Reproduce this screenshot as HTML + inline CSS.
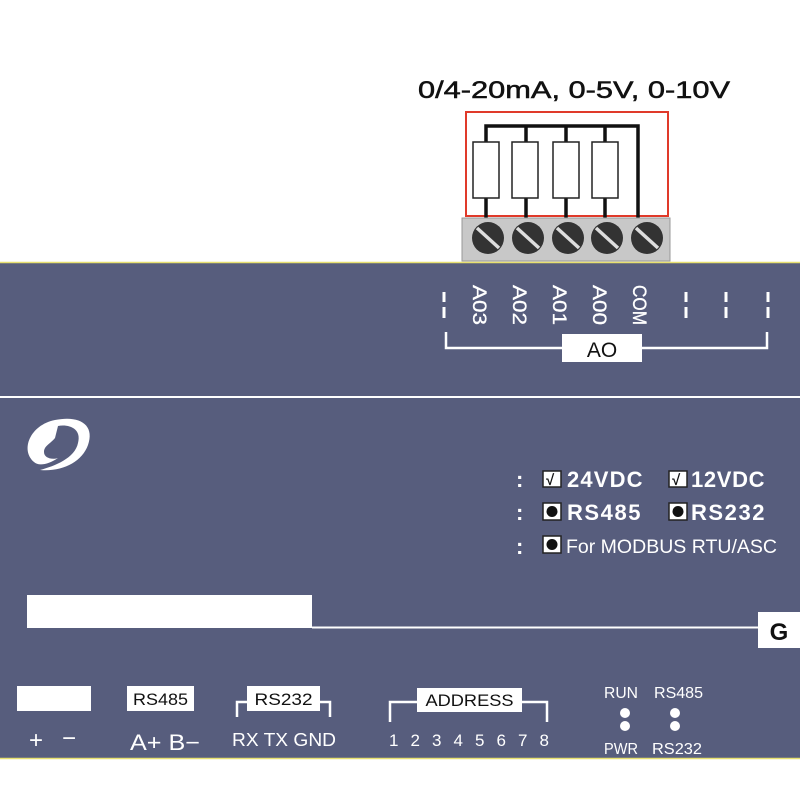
<!DOCTYPE html>
<html><head><meta charset="utf-8"><style>
html,body{margin:0;padding:0;background:#fff;}
svg{display:block;}
</style></head><body>
<svg width="800" height="800" viewBox="0 0 800 800" xmlns="http://www.w3.org/2000/svg" font-family="Liberation Sans, sans-serif">
<rect x="0" y="0" width="800" height="800" fill="#fff"/>
<!-- title -->
<text x="418" y="98" font-size="24" fill="#111" stroke="#111" stroke-width="0.5" textLength="312" lengthAdjust="spacingAndGlyphs">0/4-20mA, 0-5V, 0-10V</text>
<!-- red box -->
<rect x="466" y="112" width="202" height="104" fill="#fff" stroke="#e03a2a" stroke-width="2"/>
<!-- wires -->
<g stroke="#111" stroke-width="3.5" fill="none">
<polyline points="486,142 486,126 638,126 638,218"/>
<line x1="526" y1="126" x2="526" y2="142"/>
<line x1="566" y1="126" x2="566" y2="142"/>
<line x1="605" y1="126" x2="605" y2="142"/>
<line x1="486" y1="198" x2="486" y2="218"/>
<line x1="526" y1="198" x2="526" y2="218"/>
<line x1="566" y1="198" x2="566" y2="218"/>
<line x1="605" y1="198" x2="605" y2="218"/>
</g>
<g fill="#fff" stroke="#222" stroke-width="1.5">
<rect x="473" y="142" width="26" height="56"/>
<rect x="512" y="142" width="26" height="56"/>
<rect x="553" y="142" width="26" height="56"/>
<rect x="592" y="142" width="26" height="56"/>
</g>
<!-- terminal block -->
<rect x="462" y="218" width="208" height="43" fill="#c8c8c8" stroke="#999" stroke-width="1"/>
<g>
<circle cx="488" cy="238" r="16" fill="#333"/>
<circle cx="528" cy="238" r="16" fill="#333"/>
<circle cx="568" cy="238" r="16" fill="#333"/>
<circle cx="607" cy="238" r="16" fill="#333"/>
<circle cx="647" cy="238" r="16" fill="#333"/>
</g>
<g stroke="#ddd" stroke-width="3.5">
<line x1="477" y1="228" x2="499" y2="248"/>
<line x1="517" y1="228" x2="539" y2="248"/>
<line x1="557" y1="228" x2="579" y2="248"/>
<line x1="596" y1="228" x2="618" y2="248"/>
<line x1="636" y1="228" x2="658" y2="248"/>
</g>
<!-- panel -->
<rect x="0" y="262" width="800" height="497" fill="#575d7d"/>
<line x1="0" y1="262.5" x2="800" y2="262.5" stroke="#e8e070" stroke-width="1.5"/>
<line x1="0" y1="758.5" x2="800" y2="758.5" stroke="#e8e070" stroke-width="1.5"/>
<line x1="0" y1="397" x2="800" y2="397" stroke="#fff" stroke-width="2"/>
<!-- vertical labels -->
<g fill="#fff" font-size="19" stroke="#fff" stroke-width="0.3">
<text transform="translate(473,285) rotate(90)" textLength="40" lengthAdjust="spacingAndGlyphs">A03</text>
<text transform="translate(513,285) rotate(90)" textLength="40" lengthAdjust="spacingAndGlyphs">A02</text>
<text transform="translate(553,285) rotate(90)" textLength="40" lengthAdjust="spacingAndGlyphs">A01</text>
<text transform="translate(593,285) rotate(90)" textLength="40" lengthAdjust="spacingAndGlyphs">A00</text>
<text transform="translate(633,285) rotate(90)" textLength="40" lengthAdjust="spacingAndGlyphs">COM</text>
</g>
<g stroke="#fff" stroke-width="3">
<line x1="444" y1="292" x2="444" y2="302"/><line x1="444" y1="307" x2="444" y2="318"/>
<line x1="686" y1="292" x2="686" y2="302"/><line x1="686" y1="307" x2="686" y2="318"/>
<line x1="726" y1="292" x2="726" y2="302"/><line x1="726" y1="307" x2="726" y2="318"/>
<line x1="768" y1="292" x2="768" y2="302"/><line x1="768" y1="307" x2="768" y2="318"/>
</g>
<polyline points="446,332 446,348 767,348 767,332" fill="none" stroke="#fff" stroke-width="2.5"/>
<rect x="562" y="334" width="80" height="28" fill="#fff"/>
<text x="602" y="357" font-size="21" text-anchor="middle" fill="#111">AO</text>
<!-- logo -->
<path d="M34,462 C20,450 30,425 55,420 C80,415 95,425 88,445 C82,462 62,472 40,470 C55,466 75,458 78,443 C82,428 68,424 58,426 L55,438 C50,444 44,446 44,452 C44,458 52,460 58,458 C48,465 38,466 34,462 Z" fill="#fff"/>
<!-- options -->
<g fill="#fff" font-size="22" font-weight="bold">
<text x="516" y="487">:</text>
<text x="516" y="520">:</text>
<text x="516" y="554">:</text>
</g>
<g>
<rect x="543" y="471" width="18" height="16" fill="#fff" stroke="#222" stroke-width="1.5"/>
<text x="546" y="485" font-size="15" font-weight="bold" fill="#111">√</text>
<rect x="669" y="471" width="18" height="16" fill="#fff" stroke="#222" stroke-width="1.5"/>
<text x="672" y="485" font-size="15" font-weight="bold" fill="#111">√</text>
<rect x="543" y="503" width="18" height="17" fill="#fff" stroke="#222" stroke-width="1.5"/>
<circle cx="552" cy="511.5" r="5.5" fill="#111"/>
<rect x="669" y="503" width="18" height="17" fill="#fff" stroke="#222" stroke-width="1.5"/>
<circle cx="678" cy="511.5" r="5.5" fill="#111"/>
<rect x="543" y="536" width="18" height="17" fill="#fff" stroke="#222" stroke-width="1.5"/>
<circle cx="552" cy="544.5" r="5.5" fill="#111"/>
</g>
<g fill="#fff" font-size="22" font-weight="bold" letter-spacing="2.5">
<text x="567" y="487" textLength="78">24VDC</text>
<text x="691" y="487" textLength="76">12VDC</text>
<text x="567" y="520" textLength="76">RS485</text>
<text x="691" y="520" textLength="76">RS232</text>
</g>
<text x="566" y="553" font-size="19" fill="#fff" textLength="211" lengthAdjust="spacingAndGlyphs">For MODBUS  RTU/ASC</text>
<!-- white bar and G -->
<rect x="27" y="595" width="285" height="33" fill="#fff"/>
<line x1="312" y1="627.5" x2="760" y2="627.5" stroke="#fff" stroke-width="2"/>
<rect x="758" y="612" width="42" height="36" fill="#fff"/>
<text x="779" y="640" font-size="24" font-weight="bold" text-anchor="middle" fill="#111">G</text>
<!-- bottom -->
<rect x="17" y="686" width="74" height="25" fill="#fff"/>
<rect x="127" y="686" width="67" height="25" fill="#fff"/>
<text x="160.5" y="705" font-size="17" text-anchor="middle" fill="#111" textLength="55" lengthAdjust="spacingAndGlyphs">RS485</text>
<polyline points="237,717 237,702 330,702 330,717" fill="none" stroke="#fff" stroke-width="2.5"/>
<rect x="247" y="686" width="73" height="25" fill="#fff"/>
<text x="283.5" y="705" font-size="17" text-anchor="middle" fill="#111" textLength="58" lengthAdjust="spacingAndGlyphs">RS232</text>
<polyline points="390,722 390,702 547,702 547,722" fill="none" stroke="#fff" stroke-width="2.5"/>
<rect x="417" y="688" width="105" height="24" fill="#fff"/>
<text x="469.5" y="706" font-size="17" text-anchor="middle" fill="#111" textLength="88" lengthAdjust="spacingAndGlyphs">ADDRESS</text>
<g fill="#fff">
<text x="29" y="748" font-size="24">+</text>
<text x="62" y="746" font-size="24">−</text>
<text x="130" y="750" font-size="22" textLength="70" lengthAdjust="spacingAndGlyphs">A+ B−</text>
<text x="232" y="746" font-size="18" textLength="104" lengthAdjust="spacingAndGlyphs">RX TX GND</text>
<text x="389" y="746" font-size="17" textLength="160" lengthAdjust="spacing">1 2 3 4 5 6 7 8</text>
<text x="604" y="698" font-size="16" textLength="34" lengthAdjust="spacingAndGlyphs">RUN</text>
<text x="654" y="698" font-size="16" textLength="49" lengthAdjust="spacingAndGlyphs">RS485</text>
<text x="604" y="754" font-size="16" textLength="34" lengthAdjust="spacingAndGlyphs">PWR</text>
<text x="652" y="754" font-size="16" textLength="50" lengthAdjust="spacingAndGlyphs">RS232</text>
</g>
<g fill="#fff">
<circle cx="625" cy="713" r="5"/><circle cx="625" cy="726" r="5"/>
<circle cx="675" cy="713" r="5"/><circle cx="675" cy="726" r="5"/>
</g>
</svg>
</body></html>
